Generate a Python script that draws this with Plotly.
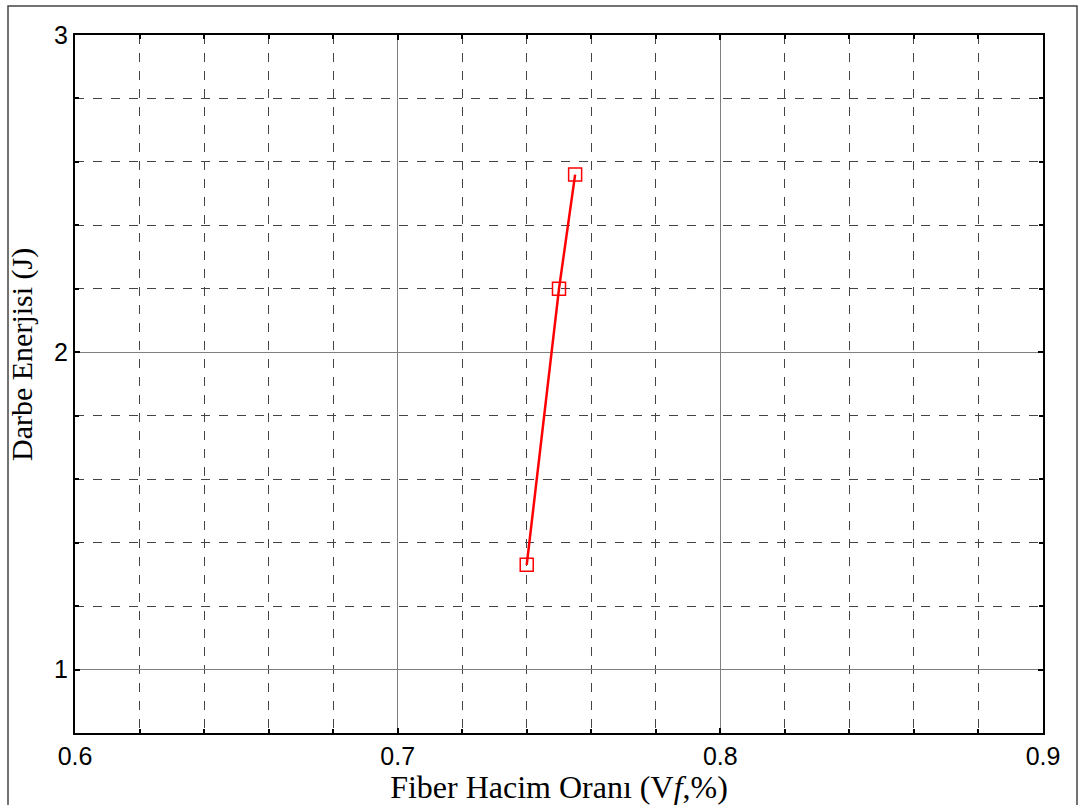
import plotly.graph_objects as go

fiber_ratio = [0.74, 0.75, 0.755]
impact_energy = [1.33, 2.2, 2.56]

x_ticks = [0.6, 0.7, 0.8, 0.9]
x_tick_labels = ["0.6", "0.7", "0.8", "0.9"]
y_ticks = [1, 2, 3]
y_tick_labels = ["1", "2", "3"]

fig = go.Figure()
fig.add_trace(go.Scatter(
    x=fiber_ratio, y=impact_energy, mode="lines+markers",
    line=dict(color="#ff0000", width=2.5),
    marker=dict(symbol="square-open", size=13, color="#ff0000", line=dict(width=1.5, color="#ff0000")),
    showlegend=False,
))

axis_common = dict(
    showline=True, linecolor="black", linewidth=2, mirror="ticks",
    ticks="inside", ticklen=5, tickwidth=1.5, tickcolor="black",
    showgrid=True, gridcolor="#808080", gridwidth=1,
    zeroline=False,
    tickfont=dict(family="Liberation Sans, Arial", size=25, color="black"),
)

fig.update_xaxes(
    range=[0.6, 0.9], tickvals=x_ticks, ticktext=x_tick_labels,
    minor=dict(dtick=0.02, showgrid=True, gridcolor="#444444", griddash="dash", gridwidth=1,
               ticks="inside", ticklen=4, tickcolor="black"),
    title=dict(text="Fiber Hacim Oranı (V<i>f</i>,%)",
               font=dict(family="Liberation Serif, Times New Roman", size=32, color="black"), standoff=1),
    **axis_common,
)
fig.update_yaxes(
    range=[0.8, 3], tickvals=y_ticks, ticktext=y_tick_labels,
    minor=dict(dtick=0.2, showgrid=True, gridcolor="#444444", griddash="dash", gridwidth=1,
               ticks="inside", ticklen=4, tickcolor="black"),
    **axis_common,
)

fig.add_annotation(
    text="Darbe Enerjisi (J)", textangle=-90, showarrow=False,
    xref="paper", yref="paper", x=(22 - 75) / 968, y=(733 - 355) / 698,
    xanchor="center", yanchor="middle",
    font=dict(family="Liberation Serif, Times New Roman", size=30, color="black"),
)

fig.add_shape(type="rect", xref="paper", yref="paper",
              x0=(8 - 75) / 968, x1=(1077 - 75) / 968,
              y0=(733 - 815) / 698, y1=(733 - 6) / 698,
              line=dict(color="#444444", width=1.5), layer="below")

fig.update_layout(
    width=1081, height=805,
    margin=dict(l=75, r=38, t=35, b=72),
    paper_bgcolor="white", plot_bgcolor="white",
)
fig.write_html("out.html")
